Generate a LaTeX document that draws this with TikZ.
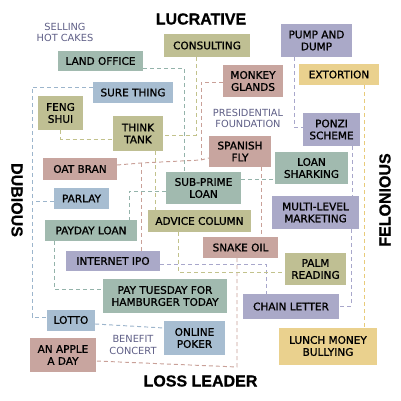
\documentclass[tikz,border=0pt]{standalone}
\usepackage{fontspec}
\newfontfamily\boxfont[FakeBold=1.2]{DejaVu Sans}
\newfontfamily\notefont{DejaVu Sans}
\newfontfamily\axisfont[FakeBold=0.8]{Liberation Sans}
\usetikzlibrary{calc}
\pgfdeclarelayer{paper}
\pgfdeclarelayer{background}
\pgfsetlayers{paper,background,main}
\definecolor{cGreen}{HTML}{A1BAAF}
\definecolor{cBlue}{HTML}{A7BDD1}
\definecolor{cOlive}{HTML}{BFBF93}
\definecolor{cPink}{HTML}{C8A59F}
\definecolor{cLav}{HTML}{AAA9C8}
\definecolor{cYel}{HTML}{EAD18E}
\definecolor{lGreen}{HTML}{94B3AA}
\definecolor{lBlue}{HTML}{9CB5CC}
\definecolor{lOlive}{HTML}{C2C28C}
\definecolor{lPink}{HTML}{C9A098}
\definecolor{lLav}{HTML}{A8A7CB}
\definecolor{lYel}{HTML}{E8CB7A}
\definecolor{noteC}{HTML}{5E5E86}
\tikzset{
  bx/.style={inner sep=0pt, align=center, text=black,
    font=\boxfont\fontsize{10.5}{12}\selectfont},
  bxG/.style={bx, fill=cGreen},
  bxB/.style={bx, fill=cBlue},
  bxO/.style={bx, fill=cOlive},
  bxP/.style={bx, fill=cPink},
  bxL/.style={bx, fill=cLav},
  bxY/.style={bx, fill=cYel},
  note/.style={align=center, text=noteC, inner sep=0pt,
    font=\notefont\fontsize{9.8}{11.5}\selectfont},
  axis/.style={inner sep=0pt, text=black,
    font=\axisfont\bfseries\fontsize{16}{16}\selectfont},
  ln/.style={line width=0.95pt, dash pattern=on 4pt off 3pt},
  lnG/.style={ln, draw=lGreen},
  lnB/.style={ln, draw=lBlue},
  lnO/.style={ln, draw=lOlive},
  lnP/.style={ln, draw=lPink},
  lnL/.style={ln, draw=lLav},
  lnY/.style={ln, draw=lYel},
}
\newcommand{\bxn}[6]{\node[#1, minimum width=#4pt, minimum height=#5pt] (#2) at (#3) {#6};}
\begin{document}
\begin{tikzpicture}[x=1pt,y=-1pt]
\begin{pgfonlayer}{paper}
\fill[white] (0,0) rectangle (401,401);
\end{pgfonlayer}
\useasboundingbox (0,0) rectangle (401,401);
% axis labels
\node[axis] (lucr) at (201,19) {LUCRATIVE};
\node[axis] (loss) at (200.5,381) {LOSS LEADER};
\node[axis, rotate=-90] (dub) at (17,200) {DUBIOUS};
\node[axis, rotate=90] (fel) at (385,200) {FELONIOUS};
% notes
\node[note] (selling) at (65,32.5) {SELLING\\HOT CAKES};
\node[note] (pres) at (248,118.5) {PRESIDENTIAL\\FOUNDATION};
\node[note] (benefit) at (133,345) {BENEFIT\\CONCERT};
% boxes
\bxn{bxG}{landoffice}{100.5,61}{85}{20}{LAND OFFICE}
\bxn{bxB}{surething}{133,92.5}{80}{21}{SURE THING}
\bxn{bxO}{consulting}{207,45.5}{86}{23}{CONSULTING}
\bxn{bxP}{monkey}{253,81}{60}{32}{MONKEY\\GLANDS}
\bxn{bxL}{pump}{316.5,40.5}{71}{33}{PUMP AND\\DUMP}
\bxn{bxY}{extortion}{339,74.5}{80}{21}{EXTORTION}
\bxn{bxO}{fengshui}{60.5,113}{45}{34}{FENG\\SHUI}
\bxn{bxO}{thinktank}{138,133.5}{50}{35}{THINK\\TANK}
\bxn{bxL}{ponzi}{331.5,129.5}{57}{33}{PONZI\\SCHEME}
\bxn{bxP}{spanish}{240,151.5}{62}{31}{SPANISH\\FLY}
\bxn{bxP}{oatbran}{80,169}{74}{22}{OAT BRAN}
\bxn{bxG}{loansharking}{311.5,168}{73}{32}{LOAN\\SHARKING}
\bxn{bxG}{subprime}{203.5,188}{75}{32}{SUB-PRIME\\LOAN}
\bxn{bxB}{parlay}{81.5,198.5}{55}{21}{PARLAY}
\bxn{bxL}{mlm}{315.5,212.5}{87}{33}{MULTI-LEVEL\\MARKETING}
\bxn{bxO}{advice}{199.5,221}{103}{22}{ADVICE COLUMN}
\bxn{bxG}{payday}{91,230.5}{92}{21}{PAYDAY LOAN}
\bxn{bxP}{snakeoil}{240.5,247.5}{75}{21}{SNAKE OIL}
\bxn{bxL}{ipo}{113,261}{94}{20}{INTERNET IPO}
\bxn{bxO}{palm}{315.5,269}{61}{32}{PALM\\READING}
\bxn{bxG}{paytuesday}{165,296}{124}{34}{PAY TUESDAY FOR\\HAMBURGER TODAY}
\bxn{bxL}{chain}{291,306.5}{96}{25}{CHAIN LETTER}
\bxn{bxB}{lotto}{71,320}{48}{21}{LOTTO}
\bxn{bxB}{poker}{194.5,338}{61}{34}{ONLINE\\POKER}
\bxn{bxP}{apple}{63,355}{66}{34}{AN APPLE\\A DAY}
\bxn{bxY}{lunch}{328,346}{98}{37}{LUNCH MONEY\\BULLYING}
% junction points
\coordinate (jOat) at (141,163);
\coordinate (jMonk) at (201,160);
\coordinate (jLeft) at (32,201);
\begin{pgfonlayer}{background}
\draw[lnG] (landoffice.east |- 0,68) -| (subprime.north -| 184,0);
\draw[lnB] (surething.west |- 0,87) -| (jLeft) |- (lotto.west |- 0,317);
\draw[lnB] (parlay.west |- 0,201) -- (jLeft);
\draw[lnO] (fengshui.south) |- (thinktank.west |- 0,139);
\draw[lnO] (consulting.south -| 196,0) |- (thinktank.east |- 0,135);
\draw[lnO] (thinktank.south -| 155,0) -- (advice.north -| 155,0);
\draw[lnP] (oatbran.east |- 0,165) -- (jOat) -- (jMonk) -- (spanish.west |- 0,158);
\draw[lnP] (jOat) -- (ipo.north -| jOat);
\draw[lnP] (monkey.west |- 0,82) -| (jMonk);
\draw[lnP] (spanish.south -| 261,0) -- (snakeoil.north -| 261,0);
\draw[lnP] (snakeoil.south -| 237,0) -- (237,367) -- (apple.east |- 0,361);
\draw[lnG] (subprime.west |- 0,191) -| (payday.north -| 129,0);
\draw[lnG] (subprime.east |- 0,179) -- (loansharking.west |- 0,179);
\draw[lnG] (payday.south -| 54,0) |- (paytuesday.west |- 0,289);
\draw[lnL] (ipo.east |- 0,264) -| (chain.north -| 266,0);
\draw[lnO] (advice.south -| 178,0) |- (palm.west |- 0,272);
\draw[lnL] (pump.south -| 294,0) |- (ponzi.west |- 0,127);
\draw[lnL] (ponzi.south -| 352,0) -- (mlm.north -| 352,0);
\draw[lnL] (mlm.south -| 351,0) |- (chain.east |- 0,306);
\draw[lnY] (extortion.south -| 364,0) -- (lunch.north -| 364,0);
\draw[lnB] (lotto.east |- 0,324) -- (poker.west |- 0,328);
\end{pgfonlayer}
\end{tikzpicture}
\end{document}
